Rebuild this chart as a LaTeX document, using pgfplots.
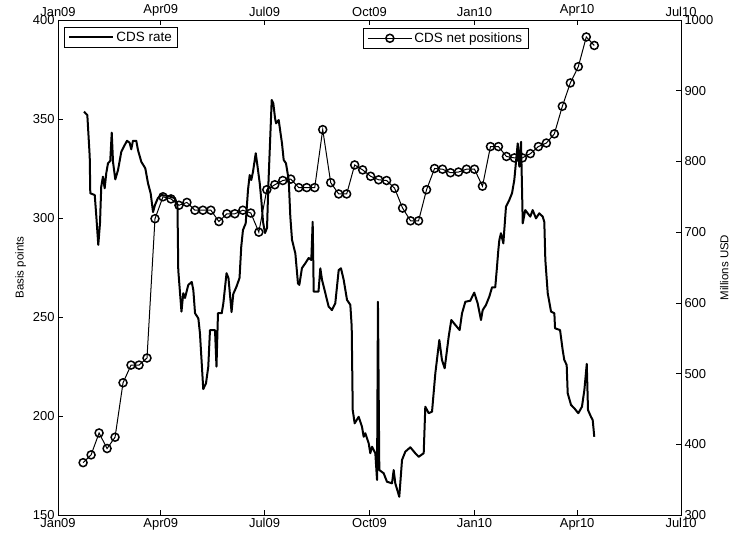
\documentclass[border=0pt]{standalone}
\usepackage{fontspec}
\setmainfont{Liberation Sans}
\usepackage{pgfplots}
\pgfplotsset{compat=1.18}

% x is days since 1 Jan 2009
\pgfplotsset{
  cdsbase/.style={
    scale only axis, width=623bp, height=495bp,
    xmin=0, xmax=546,
    xtick={0,90,181,273,365,455,546},
    xticklabels={Jan09,Apr09,Jul09,Oct09,Jan10,Apr10,Jul10},
    xtick pos=both,
    tick align=inside, major tick length=5bp,
    tick style={black, line width=0.5pt},
    axis line style={line width=0.6pt},
    ticklabel style={font=\fontsize{13}{15}\selectfont},
    label style={font=\fontsize{11.5}{13}\selectfont},
    /pgf/number format/assume math mode=true,
    /pgf/number format/1000 sep={},
    legend cell align=left,
    legend style={draw=black, line width=0.5pt, font=\fontsize{13.5}{15}\selectfont,
      inner xsep=4bp, inner ysep=2.5bp, anchor=north west},
    legend image code/.code={
      \draw[mark repeat=2, mark phase=2, #1]
        plot coordinates {(0cm,0cm) (0.78cm,0cm) (1.56cm,0cm)};},
  },
}

\begin{document}
\begin{tikzpicture}
\begin{axis}[cdsbase, name=ax,
  ymin=150, ymax=400, ytick={150,200,...,400},
  ytick pos=left, xticklabel pos=left,
  ylabel={Basis points},
  legend style={at={(0.0096,0.986)}},
]
\addplot[black, line width=2bp, line join=round] coordinates {
(22.8,353.7) (25.7,352.0) (27.8,331.0) (28.3,312.5) (32.2,311.6) (33.6,300.7)
(35.3,286.4) (36.8,297.3) (37.9,315.8) (39.4,320.9) (40.9,315.0) (42.3,322.6)
(43.8,327.6) (45.8,328.9) (47.1,343.1) (48.2,328.4) (50.2,319.5) (52.6,324.2)
(55.5,333.5) (58.5,336.9) (60.5,339.0) (62.8,338.0) (64.2,334.7) (65.7,339.0)
(68.6,339.0) (70.1,334.3) (73.0,328.4) (76.5,325.1) (78.9,317.5) (81.2,312.5)
(83.3,303.0) (85.0,306.6) (87.6,310.1) (90.7,311.6) (96.4,311.1) (102.5,310.0)
(104.7,306.6) (105.4,273.7) (108.2,252.7) (109.8,262.0) (111.3,259.6) (114.2,266.2)
(117.2,267.7) (118.6,263.6) (120.1,251.9) (123.0,249.3) (124.4,241.8) (127.3,213.6)
(129.7,216.5) (131.7,224.9) (133.2,243.4) (137.6,243.4) (138.9,224.9) (140.2,251.9)
(143.5,251.9) (144.9,256.9) (147.7,272.1) (149.4,269.7) (152.1,252.5) (153.6,261.6)
(156.4,265.3) (159.1,269.7) (160.6,285.5) (162.1,293.9) (164.5,297.3) (166.5,314.1)
(168.0,321.7) (169.4,319.2) (170.9,323.4) (173.3,332.7) (174.7,326.8) (176.8,317.5)
(178.2,309.1) (179.7,298.0) (181.4,292.4) (183.2,295.0) (184.3,315.8) (187.3,359.6)
(188.7,357.9) (190.2,350.5) (191.1,347.8) (193.4,349.5) (196.3,337.7) (197.8,329.3)
(199.8,327.6) (202.2,319.2) (203.6,300.7) (205.1,288.9) (208.0,282.2) (210.3,267.0)
(211.5,266.2) (213.8,274.7) (216.7,277.1) (219.7,279.8) (222.0,278.8) (223.2,298.1)
(224.1,262.8) (228.3,262.8) (229.9,274.6) (231.4,268.7) (234.3,262.0) (237.2,255.2)
(240.1,253.5) (243.0,256.9) (246.0,273.7) (248.0,274.6) (250.4,268.7) (253.3,258.6)
(256.2,256.1) (257.4,245.1) (258.3,203.0) (260.0,196.3) (263.5,199.6) (266.4,194.6)
(267.9,189.5) (269.3,191.3) (272.3,186.2) (273.7,181.2) (275.2,184.5) (278.1,181.2)
(279.6,167.7) (280.4,257.7) (281.6,172.7) (285.4,171.1) (288.3,166.8) (292.7,166.0)
(294.2,172.7) (295.6,166.0) (299.1,159.2) (301.5,177.8) (304.4,182.0) (308.8,184.2)
(313.1,181.2) (316.1,179.4) (320.5,181.2) (321.9,204.7) (324.9,201.4) (327.8,202.2)
(330.7,221.6) (334.2,238.4) (336.5,228.3) (338.9,224.1) (342.4,240.1) (344.7,248.5)
(348.2,246.0) (352.0,243.4) (354.1,251.9) (357.0,257.7) (361.3,258.2) (364.8,262.3)
(367.8,256.9) (370.7,248.5) (372.2,253.5) (375.1,256.1) (378.0,260.3) (380.4,265.0)
(383.2,265.0) (384.5,273.7) (385.9,283.8) (386.8,288.9) (388.2,292.3) (390.3,287.2)
(392.6,305.7) (395.5,309.1) (397.9,312.5) (399.9,319.2) (402.9,337.7) (404.3,325.9)
(405.8,338.5) (407.3,297.3) (409.5,304.0) (411.6,302.4) (413.9,300.7) (416.0,304.0)
(418.9,299.8) (421.8,302.4) (424.8,300.7) (426.2,298.0) (427.1,278.8) (429.2,262.0)
(432.1,252.7) (435.0,251.9) (435.6,244.3) (440.0,243.4) (442.3,233.3) (443.7,228.3)
(445.8,225.8) (446.7,211.5) (449.6,205.6) (452.5,203.9) (456.0,201.4) (459.2,204.7)
(461.3,213.1) (463.4,226.3) (464.5,203.0) (467.1,199.6) (468.6,198.0) (470.0,189.5)
};
\addlegendentry{CDS rate}
\end{axis}

\begin{axis}[cdsbase,
  ymin=300, ymax=1000, ytick={300,400,...,1000},
  ytick pos=right, yticklabel pos=right, xticklabel pos=right,
  ylabel={Millions USD},
  legend style={at={(0.4896,0.984)}},
]
\addplot[black, line width=1bp,
  mark=o, mark size=4bp, mark options={line width=1.5bp, solid}] coordinates {
(22,374) (29,385) (36,416) (43,394) (50,410) (57,487) (64,512) (71,512) (78,522) (85,719)
(92,750) (99,747) (106,738) (113,742) (120,731) (127,731) (134,731) (141,715) (148,726) (155,726)
(162,731) (169,727) (176,700) (183,760) (190,767) (197,773) (204,775) (211,763) (218,763) (225,763)
(232,845) (239,770) (246,754) (253,754) (260,795) (267,788) (274,779) (281,774) (288,773) (295,762)
(302,734) (309,716) (316,716) (323,760) (330,790) (337,789) (344,784) (351,785) (358,789) (365,789)
(372,765) (379,821) (386,821) (393,807) (400,805) (407,805) (414,811) (421,821) (428,826) (435,839)
(442,878) (449,911) (456,934) (463,976) (470,964)
};
\addlegendentry{CDS net positions}
\end{axis}

\pgfresetboundingbox
\path ([xshift=-58bp,yshift=-24bp]ax.south west) rectangle ([xshift=57bp,yshift=20bp]ax.north east);
\end{tikzpicture}
\end{document}
